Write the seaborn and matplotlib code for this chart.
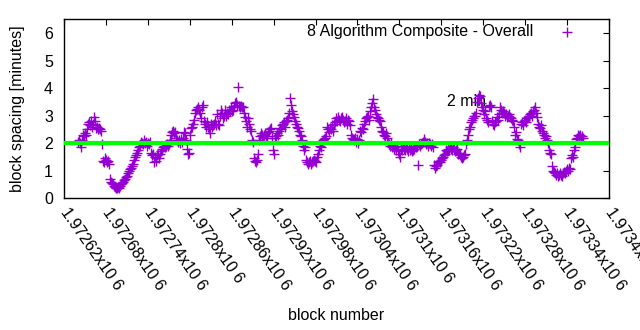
import numpy as np
import pandas as pd
import matplotlib
matplotlib.use("Agg")
import matplotlib.pyplot as plt
import seaborn as sns

# ---- data ----
first_block = 1972640
last_block = 1973363
spacing_minutes = [
    2.05, 2.1, 2.0, 1.85, 2.1, 2.3, 2.25, 2.35, 2.3, 2.5,
    2.7, 2.75, 2.65, 2.8, 2.6, 2.7, 2.95, 2.8, 2.55, 2.6,
    2.5, 2.55, 2.5, 2.45, 1.95,
    1.35, 1.3, 1.45, 1.4, 1.3, 1.35, 1.25, 0.7, 0.6, 0.55,
    0.5, 0.45, 0.4, 0.38, 0.35, 0.4, 0.38, 0.45, 0.5, 0.55,
    0.6, 0.65, 0.7, 0.75, 0.8, 0.9, 1.0, 1.05, 1.1, 1.15,
    1.25, 1.4, 1.5, 1.55, 1.65, 1.75,
    1.85, 1.9, 2.05, 2.0, 1.95, 2.1, 2.0, 2.05, 1.9, 2.0,
    1.95, 2.05, 1.65, 1.55, 1.6, 1.3, 1.5, 1.35, 1.55, 1.6,
    1.45, 1.6, 1.7, 1.8, 1.85, 1.9, 1.85, 1.9, 1.95, 1.9,
    1.95, 2.1, 2.3, 2.4, 2.45, 2.35, 2.4, 2.2, 2.1, 2.05,
    2.1, 2.0, 2.15, 2.05, 2.2, 2.4, 2.35, 2.1, 1.8, 1.6,
    1.65, 2.3, 2.55, 2.6, 2.7, 2.85, 3.1, 3.2, 3.25, 3.3,
    3.2, 3.1,
    2.9, 3.3, 3.4, 2.8, 2.7, 2.6, 2.75, 2.6, 2.5, 2.35,
    2.7, 2.6, 2.65, 2.7, 2.8, 2.65, 3.05, 2.7, 2.65, 3.0,
    3.2, 3.1, 2.9, 3.0, 3.2, 3.0, 3.1, 3.05, 3.2, 3.15,
    3.3, 3.15, 3.2, 3.35, 3.45, 3.5, 3.4, 4.03, 3.35, 3.3,
    3.35, 3.3, 3.3, 3.1, 2.95, 2.8, 2.6, 2.9, 2.7, 2.5,
    2.45, 2.1, 2.05, 1.45, 1.35, 1.3, 1.4, 1.6, 2.1, 2.25,
    2.35, 2.3, 2.2,
    2.3, 2.35, 2.2, 2.25, 2.4, 2.45, 2.5, 2.55, 2.2, 1.75,
    1.6, 2.2, 2.25, 2.35, 2.3, 2.45, 2.55, 2.5, 2.65, 2.7,
    2.75, 2.6, 2.8, 2.85, 2.9, 3.1, 3.65, 3.4, 3.15, 3.05,
    2.95, 2.8, 2.7, 2.6, 2.55, 2.45, 2.3, 2.25, 2.1, 1.9,
    1.75, 1.85, 1.4, 1.3, 1.25, 1.3, 1.35, 1.25, 1.3, 1.35,
    1.4, 1.35, 1.3, 1.5, 1.6, 1.75, 1.9, 1.85, 2.05, 2.1,
    2.15, 2.2, 2.25, 2.6, 2.5,
    2.4, 2.55, 2.5, 2.65, 2.45, 2.7, 2.75, 2.9, 2.8, 2.95,
    2.85, 2.8, 2.9, 2.95, 2.85, 2.75, 2.8, 2.9, 2.7, 2.85,
    2.8, 2.65, 2.3, 2.2, 2.15, 2.1, 2.2, 2.05, 2.15, 2.0,
    2.1, 2.45, 2.4, 2.55, 2.5, 2.7, 2.8, 2.9, 2.95, 3.0,
    2.85, 3.15, 3.3, 3.45, 3.6, 3.3, 3.2, 3.05, 2.95, 2.9,
    2.85, 2.8, 2.6, 2.45, 2.4, 2.3, 2.25, 2.35, 2.2, 2.05,
    1.95, 1.9,
    2.0, 1.85, 1.9, 1.8, 1.85, 1.75, 1.9, 1.7, 1.6, 1.5,
    1.8, 1.75, 1.9, 1.8, 1.75, 1.85, 1.8, 1.7, 1.85, 1.75,
    1.8, 1.7, 1.75, 1.8, 1.9, 1.85, 1.9, 1.2, 1.95, 1.9,
    1.95, 2.0, 2.05, 2.15, 2.05, 1.95, 2.0, 1.9, 2.0, 1.95,
    1.9, 1.95, 1.85, 1.2, 1.1, 1.15, 1.2, 1.3, 1.35, 1.3,
    1.4, 1.45, 1.5, 1.55, 1.6, 1.75, 1.7, 1.8, 1.75, 1.85,
    1.8, 1.75, 1.85, 1.8, 1.7, 1.75, 1.8, 1.6, 1.65, 1.55,
    1.5, 1.45, 1.5, 1.55, 1.6, 1.95, 2.1, 2.3, 2.5, 2.6,
    2.75, 2.85, 2.9, 3.0, 3.0, 3.1, 3.5, 3.65, 3.75, 3.7,
    3.45, 3.3, 3.2, 3.05, 3.15, 2.9, 2.85, 2.75, 3.35, 3.4,
    3.3, 2.8, 2.7, 2.65, 2.75, 2.8, 2.95, 2.85, 3.05, 3.3,
    3.2, 3.1, 3.15, 3.1, 3.0, 3.05, 2.95, 3.0, 3.05, 2.95,
    2.9, 2.85, 2.8, 2.6, 2.3, 2.4, 2.15, 2.1, 1.95, 1.85,
    2.7, 2.75, 2.65, 2.8, 2.85, 2.75, 2.9, 2.95, 3.0, 3.05,
    3.1, 3.0, 3.15, 3.2, 3.3, 3.1, 2.95, 2.7, 2.6, 2.55,
    2.65, 2.45, 2.35, 2.3, 2.2, 2.25, 2.1, 2.0, 1.75, 1.65,
    1.6, 1.15, 1.0, 0.95, 0.9, 0.85, 0.9, 0.8, 0.85, 0.9,
    0.85, 0.8, 0.9, 0.95, 0.9, 1.0, 1.05, 1.0, 1.1, 1.05,
    1.45, 1.55, 1.5, 1.75, 1.85, 2.15, 2.2, 2.3, 2.25, 2.3,
    2.2, 2.25, 2.2,
]
target_minutes = 2
target_label = "2 min"
target_label_block = 1973168
target_label_minutes = 3.5
series_label = "8 Algorithm Composite - Overall"
x_title = "block number"
y_title = "block spacing [minutes]"
tick_blocks = [1972620, 1972680, 1972740, 1972800, 1972860, 1972920, 1972980,
               1973040, 1973100, 1973160, 1973220, 1973280, 1973340, 1973400]
tick_labels = ["1.97262x10 6", "1.97268x10 6", "1.97274x10 6", "1.9728x10 6",
               "1.97286x10 6", "1.97292x10 6", "1.97298x10 6", "1.97304x10 6",
               "1.9731x10 6", "1.97316x10 6", "1.97322x10 6", "1.97328x10 6",
               "1.97334x10 6", "1.9734x10 6"]
y_ticks = [0, 1, 2, 3, 4, 5, 6]

FS = 11.5

# ---- style ----
sns.set_theme(style="white")
plt.rcParams['font.family'] = ['Liberation Sans', 'DejaVu Sans']
plt.rcParams['text.color'] = 'black'
plt.rcParams['axes.labelcolor'] = 'black'
plt.rcParams['xtick.color'] = 'black'
plt.rcParams['ytick.color'] = 'black'

fig = plt.figure(figsize=(6.4, 3.3), dpi=100)
ax = fig.add_axes([64 / 640, 1 - 198 / 330, 545 / 640, (198 - 19.3) / 330])

df = pd.DataFrame({
    "block": np.linspace(first_block, last_block, len(spacing_minutes)),
    "minutes": spacing_minutes,
})
sns.scatterplot(data=df, x="block", y="minutes", marker="+", s=46,
                color="#9400D3", linewidth=1.0, label=series_label,
                ax=ax, zorder=3)
ax.axhline(target_minutes, color="#00FF00", lw=3, zorder=4)
ax.text(target_label_block, target_label_minutes, target_label,
        ha="left", va="center", fontsize=FS, color="black", zorder=1)

ax.set_xlim(tick_blocks[0], tick_blocks[-1])
ax.set_ylim(0, 6.5)
ax.set_xticks(tick_blocks)
ax.set_xticklabels(tick_labels, rotation=-55, ha="left", va="center",
                   rotation_mode="anchor")
ax.set_yticks(y_ticks)
ax.tick_params(direction="in", top=True, right=True, length=4, width=0.8,
               labelsize=FS)
ax.tick_params(axis="y", pad=8)
ax.tick_params(axis="x", pad=8)
for sp in ax.spines.values():
    sp.set_color("black")
    sp.set_linewidth(1.0)

ax.set_xlabel(x_title, fontsize=FS)
ax.set_ylabel(y_title, fontsize=FS)
ax.xaxis.set_label_coords(0.5, (198 - 315) / 178.7)
ax.xaxis.label.set_va("center")
ax.yaxis.set_label_coords((18 - 64) / 545, 0.5)
ax.yaxis.label.set_va("center")

ax.legend(loc="upper right", bbox_to_anchor=(0.9486, 0.972),
          markerfirst=False, frameon=False, borderpad=0, borderaxespad=0,
          handlelength=1.74, handletextpad=1.25, fontsize=FS)

fig.savefig("out.png", dpi=100)
